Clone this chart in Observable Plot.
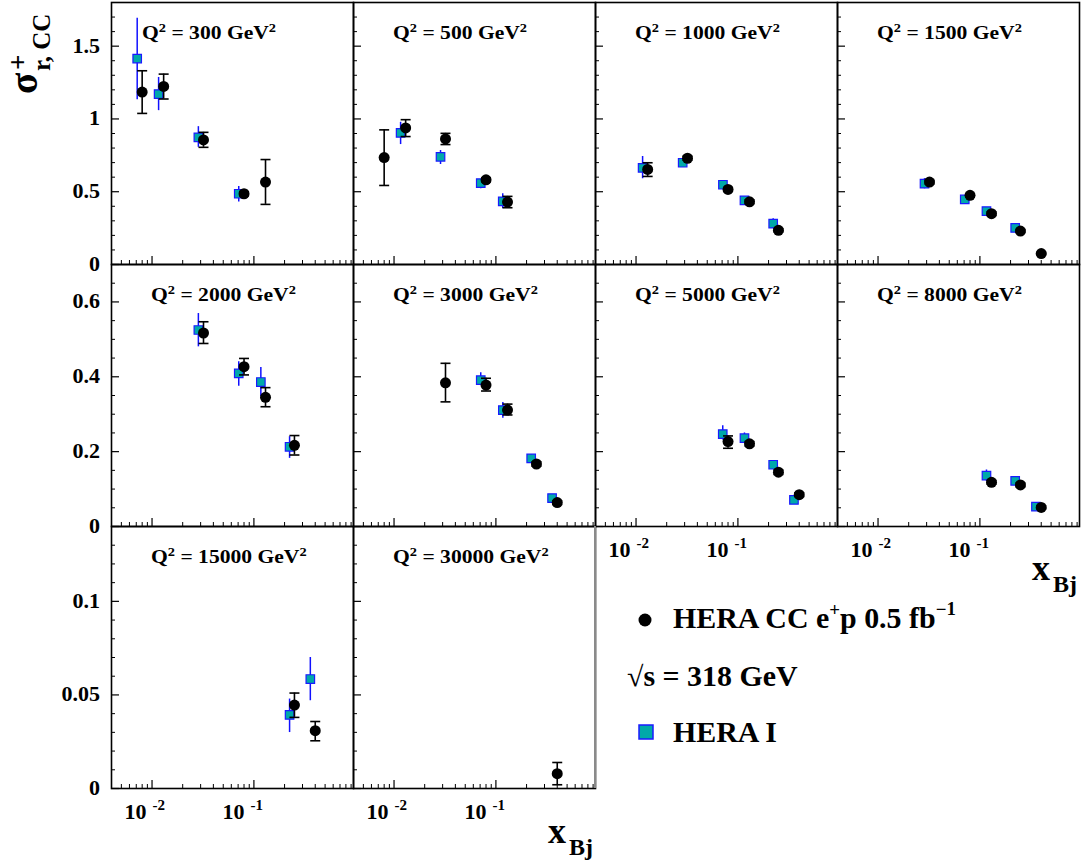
<!DOCTYPE html>
<html><head><meta charset="utf-8">
<script src="https://cdn.jsdelivr.net/npm/d3@7"></script>
<script src="https://cdn.jsdelivr.net/npm/@observablehq/plot@0.6"></script>
<style>
body{margin:0;background:#fff;}
#wrap{position:relative;width:1082px;height:865px;overflow:hidden;background:#fff;}
.panel{position:absolute;}
#overlay{position:absolute;left:0;top:0;pointer-events:none;}
</style></head><body><div id="wrap"></div>
<script>
// ---------- data ----------
const q2Values = [300, 500, 1000, 1500, 2000, 3000, 5000, 8000, 15000, 30000];

// HERA CC e+p 0.5 fb-1 (black circles)
const heraPanel = [0,0,0,0,0, 1,1,1,1,1, 2,2,2,2,2, 3,3,3,3,3, 4,4,4,4, 5,5,5,5,5, 6,6,6,6, 7,7,7, 8,8, 9];
const heraX  = [0.008,0.013,0.032,0.08,0.13, 0.008,0.013,0.032,0.08,0.13, 0.013,0.032,0.08,0.13,0.25, 0.032,0.08,0.13,0.25,0.40, 0.032,0.08,0.13,0.25, 0.032,0.08,0.13,0.25,0.40, 0.08,0.13,0.25,0.40, 0.13,0.25,0.40, 0.25,0.40, 0.40];
const heraY  = [1.185,1.223,0.856,0.486,0.566, 0.735,0.938,0.863,0.582,0.429, 0.653,0.730,0.516,0.431,0.235, 0.566,0.475,0.349,0.230,0.075, 0.517,0.427,0.345,0.217, 0.384,0.378,0.311,0.167,0.064, 0.227,0.221,0.145,0.085, 0.118,0.111,0.051, 0.0446,0.0309, 0.0079];
const heraLo = [1.038,1.137,0.805,0.472,0.413, 0.543,0.879,0.824,0.568,0.390, 0.605,0.716,0.503,0.418,0.224, 0.553,0.463,0.337,0.220,0.068, 0.489,0.405,0.320,0.191, 0.333,0.362,0.298,0.161,0.059, 0.209,0.215,0.139,0.080, 0.113,0.106,0.047, 0.0380,0.0255, 0.0020];
const heraHi = [1.331,1.308,0.908,0.500,0.721, 0.925,0.995,0.901,0.596,0.468, 0.699,0.744,0.529,0.444,0.246, 0.579,0.487,0.361,0.240,0.082, 0.547,0.449,0.371,0.243, 0.436,0.396,0.327,0.173,0.069, 0.242,0.227,0.151,0.090, 0.123,0.116,0.055, 0.0510,0.0358, 0.0139];

// HERA I (teal squares)
const h1Panel = [0,0,0,0, 1,1,1,1, 2,2,2,2,2, 3,3,3,3, 4,4,4,4, 5,5,5,5, 6,6,6,6, 7,7,7, 8,8];
const h1X  = [0.00715,0.0116,0.0285,0.071, 0.0116,0.0286,0.071,0.1167, 0.0116,0.0287,0.0713,0.116,0.222, 0.0286,0.071,0.116,0.222, 0.0285,0.071,0.117,0.224, 0.071,0.117,0.222,0.356, 0.071,0.116,0.222,0.355, 0.116,0.222,0.355, 0.224,0.358];
const h1Y  = [1.415,1.171,0.874,0.486, 0.904,0.740,0.559,0.434, 0.664,0.699,0.548,0.440,0.281, 0.555,0.447,0.367,0.251, 0.525,0.409,0.386,0.213, 0.391,0.311,0.182,0.076, 0.247,0.236,0.165,0.071, 0.136,0.122,0.053, 0.0393,0.0585];
const h1Lo = [1.132,1.057,0.805,0.429, 0.824,0.687,0.521,0.384, 0.589,0.680,0.530,0.420,0.247, 0.520,0.430,0.345,0.235, 0.480,0.375,0.347,0.182, 0.378,0.289,0.172,0.070, 0.231,0.222,0.158,0.066, 0.121,0.114,0.049, 0.0299,0.0469];
const h1Hi = [1.692,1.285,0.947,0.536, 0.977,0.783,0.577,0.486, 0.742,0.720,0.565,0.460,0.315, 0.590,0.465,0.385,0.265, 0.569,0.440,0.425,0.240, 0.411,0.331,0.192,0.083, 0.269,0.250,0.172,0.076, 0.151,0.130,0.057, 0.0478,0.0700];

// axes
const xDomain = [0.004, 0.95];
const xMajor = [0.01, 0.1];
const xMajorExp = ["-2", "-1"];
const xMinor = [0.005,0.006,0.007,0.008,0.009, 0.02,0.03,0.04,0.05,0.06,0.07,0.08,0.09, 0.2,0.3,0.4,0.5,0.6,0.7,0.8,0.9];
const rowYDomain = [[0, 1.8], [0, 0.7], [0, 0.14]];
const rowYMajor = [[0, 0.5, 1, 1.5], [0, 0.2, 0.4, 0.6], [0, 0.05, 0.1]];
const rowYLabels = [["0", "0.5", "1", "1.5"], ["0", "0.2", "0.4", "0.6"], ["0", "0.05", "0.1"]];
const rowYMinor = [
  [0.1,0.2,0.3,0.4,0.6,0.7,0.8,0.9,1.1,1.2,1.3,1.4,1.6,1.7],
  [0.05,0.1,0.15,0.25,0.3,0.35,0.45,0.5,0.55,0.65],
  [0.01,0.02,0.03,0.04,0.06,0.07,0.08,0.09,0.11,0.12,0.13]
];
const yTitleParts = ["\u03C3", "+", "r, CC"];
const legendLabels = ["HERA CC e", "+", "p 0.5 fb", "\u22121", "\u221As = 318 GeV", "HERA I"];

// ---------- layout ----------
const W = 242, H = 262, L0 = 111, T0 = 2;
const FONT = '"Liberation Serif","Times New Roman",serif';
const SQ_FILL = "#00a9a9", SQ_STROKE = "#1a1aff";
const wrap = document.getElementById("wrap");

const hera = heraX.map((x, i) => ({p: heraPanel[i], x, y: heraY[i], lo: heraLo[i], hi: heraHi[i]}));
const h1 = h1X.map((x, i) => ({p: h1Panel[i], x, y: h1Y[i], lo: h1Lo[i], hi: h1Hi[i]}));

const capSymbol = {draw(ctx, size) { const w = Math.sqrt(size / Math.PI); ctx.moveTo(-w, 0); ctx.lineTo(w, 0); }};

const panels = [];
q2Values.forEach((q, i) => {
  const c = i % 4, r = Math.floor(i / 4);
  const left = L0 + c * W, top = T0 + r * H;
  const hd = hera.filter(d => d.p === i), sd = h1.filter(d => d.p === i);
  const plot = Plot.plot({
    width: W, height: H, margin: 0,
    style: {overflow: "visible", background: "transparent"},
    x: {type: "log", domain: xDomain, axis: null},
    y: {domain: rowYDomain[r], axis: null},
    marks: [
      Plot.ruleX(xMinor, {x: d => d, insetTop: H - 4, stroke: "black", strokeWidth: 1}),
      Plot.ruleX(xMajor, {x: d => d, insetTop: H - 8, stroke: "black", strokeWidth: 1.2}),
      Plot.ruleY(rowYMinor[r], {y: d => d, insetRight: W - 4, stroke: "black", strokeWidth: 1}),
      Plot.ruleY(rowYMajor[r], {y: d => d, insetRight: W - 8, stroke: "black", strokeWidth: 1.2}),
      Plot.ruleX(sd, {x: "x", y1: "lo", y2: "hi", stroke: "#1010ff", strokeWidth: 1.5}),
      Plot.dot(sd, {x: "x", y: "y", symbol: "square", r: 4.8, fill: SQ_FILL, stroke: SQ_STROKE, strokeWidth: 1.2}),
      Plot.ruleX(hd, {x: "x", y1: "lo", y2: "hi", stroke: "black", strokeWidth: 1.6}),
      Plot.dot(hd, {x: "x", y: "lo", symbol: capSymbol, r: 5, fill: "none", stroke: "black", strokeWidth: 1.6}),
      Plot.dot(hd, {x: "x", y: "hi", symbol: capSymbol, r: 5, fill: "none", stroke: "black", strokeWidth: 1.6}),
      Plot.dot(hd, {x: "x", y: "y", r: 5.5, fill: "black", stroke: "none"}),
      Plot.frame({stroke: "black", strokeWidth: 1.6})
    ]
  });
  plot.classList.add("panel");
  plot.style.left = left + "px";
  plot.style.top = top + "px";
  wrap.appendChild(plot);
  const sx = plot.scale("x"), sy = plot.scale("y");
  const fx = sx.apply ? v => sx.apply(v) : d3.scaleLog(sx.domain, sx.range);
  const fy = sy.apply ? v => sy.apply(v) : d3.scaleLinear(sy.domain, sy.range);
  panels.push({i, q, c, r, left, top, fx, fy});
});

// ---------- overlay texts ----------
const svg = d3.select(wrap).append("svg").attr("id", "overlay").attr("width", 1082).attr("height", 865);

function addText(x, y, parts, o) {
  const g = svg.append("g").attr("transform", `translate(${x},${y}) ${o.rot ? "rotate(" + o.rot + ")" : ""} scale(${o.sx || 1},1)`);
  const t = g.append("text").attr("text-anchor", o.anchor || "start")
    .attr("font-family", FONT).attr("font-weight", "bold").attr("font-size", o.size)
    .attr("fill", "black").style("white-space", "pre");
  let cur = 0;
  for (const p of parts) {
    const [s, fs, off] = typeof p === "string" ? [p, o.size, 0] : p;
    t.append("tspan").attr("font-size", fs).attr("dy", off - cur).text(s);
    cur = off;
  }
  return t;
}

for (const P of panels) {
  // Q^2 label
  addText(P.left + (P.i === 0 ? 31 : 40), P.top + 37,
    ["Q", ["2", 12, -7], [` = ${P.q} GeV`, 18, 0], ["2", 12, -7]], {size: 18, sx: 1.2});
  // y tick labels
  if (P.c === 0) {
    rowYMajor[P.r].forEach((v, k) => {
      addText(100, P.top + P.fy(v) + 7, [rowYLabels[P.r][k]], {size: 20, anchor: "end", sx: 1.1});
    });
  }
  // x tick labels on the bottom panels
  if (P.i >= 6) {
    const base = P.top + H + 31;
    xMajor.forEach((v, k) => {
      const px = P.left + P.fx(v) + (k === 0 ? -5 : -9);
      addText(px, base, ["10"], {size: 22, anchor: "end"});
      addText(px + 6, base - 9, [xMajorExp[k]], {size: 15});
    });
  }
}

// gray right border of the last panel
const P9 = panels[9];
svg.append("line").attr("x1", P9.left + W).attr("x2", P9.left + W)
  .attr("y1", P9.top).attr("y2", P9.top + H).attr("stroke", "#8a8a8a").attr("stroke-width", 2);

// y axis title (rotated, three pieces)
addText(37, 94, [yTitleParts[0]], {size: 39, rot: -90});
addText(27, 70, [yTitleParts[1]], {size: 27, rot: -90});
addText(50, 71, [yTitleParts[2]], {size: 25, rot: -90});

// x axis titles
addText(548, 843, ["x"], {size: 36});
addText(569, 855, ["Bj"], {size: 24});
addText(1032, 580, ["x"], {size: 36});
addText(1053, 592, ["Bj"], {size: 24});

// legend
svg.append("circle").attr("cx", 645).attr("cy", 620).attr("r", 6.5).attr("fill", "black");
addText(673, 628, [legendLabels[0], [legendLabels[1], 18, -12], [legendLabels[2], 28.5, 0], [legendLabels[3], 18, -13]], {size: 28.5, sx: 1.05});
addText(627, 686, [legendLabels[4]], {size: 28.5, sx: 1.05});
svg.append("rect").attr("x", 639).attr("y", 725).attr("width", 14).attr("height", 14)
  .attr("fill", SQ_FILL).attr("stroke", SQ_STROKE).attr("stroke-width", 1.5);
addText(673, 742, [legendLabels[5]], {size: 28.5, sx: 1.05});
</script></body></html>
